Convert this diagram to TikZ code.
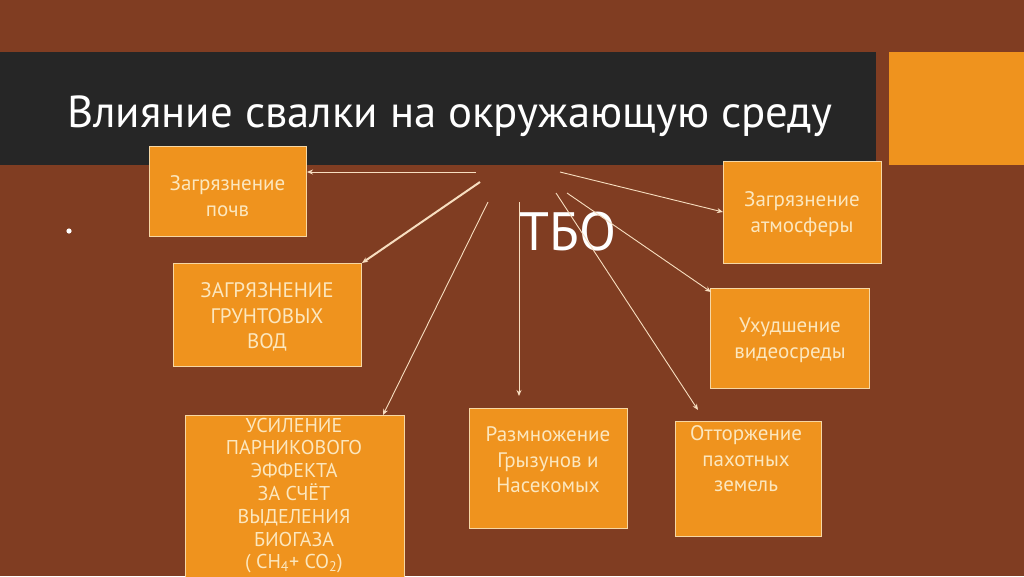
\documentclass[tikz,border=0pt]{standalone}
\usepackage{fontspec}
\setmainfont{PT Sans}
\usetikzlibrary{arrows.meta,calc}
\definecolor{bgbrown}{HTML}{803D22}
\definecolor{titlebar}{HTML}{262626}
\definecolor{boxorange}{HTML}{EF931E}
\definecolor{boxedge}{HTML}{F6D7A4}
\definecolor{boxtext}{HTML}{FCE7BE}
\definecolor{linecol}{HTML}{F7DEC0}
\tikzset{
  box/.style={draw=boxedge, line width=1pt, fill=boxorange, anchor=north west, inner sep=0pt},
  boxlabel/.style={text=boxtext, align=center, font=\fontsize{21}{25.5}\selectfont, inner sep=0pt},
  arr/.style={draw=linecol, line width=0.9pt, -{Stealth[length=6pt,width=5pt]}},
}
\begin{document}
\begin{tikzpicture}[x=1pt,y=-1pt]
\useasboundingbox (0,0) rectangle (1024,576);
\clip (0,0) rectangle (1024,576);
\fill[bgbrown] (0,0) rectangle (1024,576);
% title bar
\node[fill=titlebar, anchor=north west, minimum width=876pt, minimum height=113pt, inner sep=0pt] (bar) at (0,52) {};
\node[fill=boxorange, anchor=north west, minimum width=135pt, minimum height=113pt, inner sep=0pt] (sq) at (889,52) {};
\node[text=white, anchor=base west, inner sep=0pt, font=\fontsize{44.8}{50}\selectfont] (title) at (67,127) {Влияние свалки на окружающую среду};
% bullet
\fill[white] (69,231) circle (2.6);
% boxes
\node[box, minimum width=157pt, minimum height=90pt] (b1) at (149,146) {};
\node[box, minimum width=188pt, minimum height=103pt] (b2) at (173,263) {};
\node[box, minimum width=219pt, minimum height=180pt] (b3) at (185,415) {};
\node[box, minimum width=158pt, minimum height=120pt] (b4) at (469,408) {};
\node[box, minimum width=146pt, minimum height=115pt] (b5) at (675,421) {};
\node[box, minimum width=158pt, minimum height=102pt] (b6) at (723,161) {};
\node[box, minimum width=159pt, minimum height=100pt] (b7) at (710,288) {};
% labels
\node[boxlabel] (t1) at (227.5,196) {Загрязнение\\почв};
\node[boxlabel] (t2) at (267,317) {ЗАГРЯЗНЕНИЕ\\ГРУНТОВЫХ\\ВОД};
\node[boxlabel, font=\fontsize{20}{22.8}\selectfont] (t3) at (294,495.5) {УСИЛЕНИЕ\\ПАРНИКОВОГО\\ЭФФЕКТА\\ЗА СЧЁТ\\ВЫДЕЛЕНИЯ\\БИОГАЗА\\( CH\textsubscript{4}+ CO\textsubscript{2})};
\node[boxlabel] (t4) at (548,460) {Размножение\\Грызунов и\\Насекомых};
\node[boxlabel] (t5) at (746,459) {Отторжение\\пахотных\\земель};
\node[boxlabel] (t6) at (802,214) {Загрязнение\\атмосферы};
\node[boxlabel] (t7) at (790,340) {Ухудшение\\видеосреды};
\node[text=white, inner sep=0pt, font=\fontsize{54}{60}\selectfont] (tbo) at (568,232) {ТБО};
% arrow sources
\coordinate (s1) at (476,172);
\coordinate (s2) at (480,182);
\coordinate (s3) at (488,202);
\coordinate (s4) at (519,202);
\coordinate (s5) at (556,193);
\coordinate (s6) at (567,193);
\coordinate (s7) at (560,172);
% arrows
\draw[arr] (s1) -- ($(b1.north east)+(0,26)$);
\draw[arr, line width=2pt] (s2) -- (b2.north east);
\draw[arr] (s3) -- ($(b3.north east)+(-22,0)$);
\draw[arr] (s4) -- ($(b4.north west)+(50,-12)$);
\draw[arr] (s5) -- ($(b5.north west)+(23,-11)$);
\draw[arr] (s6) -- ($(b7.north west)+(1,4)$);
\draw[arr] (s7) -- ($(b6.north west)+(0,51)$);
\end{tikzpicture}
\end{document}
